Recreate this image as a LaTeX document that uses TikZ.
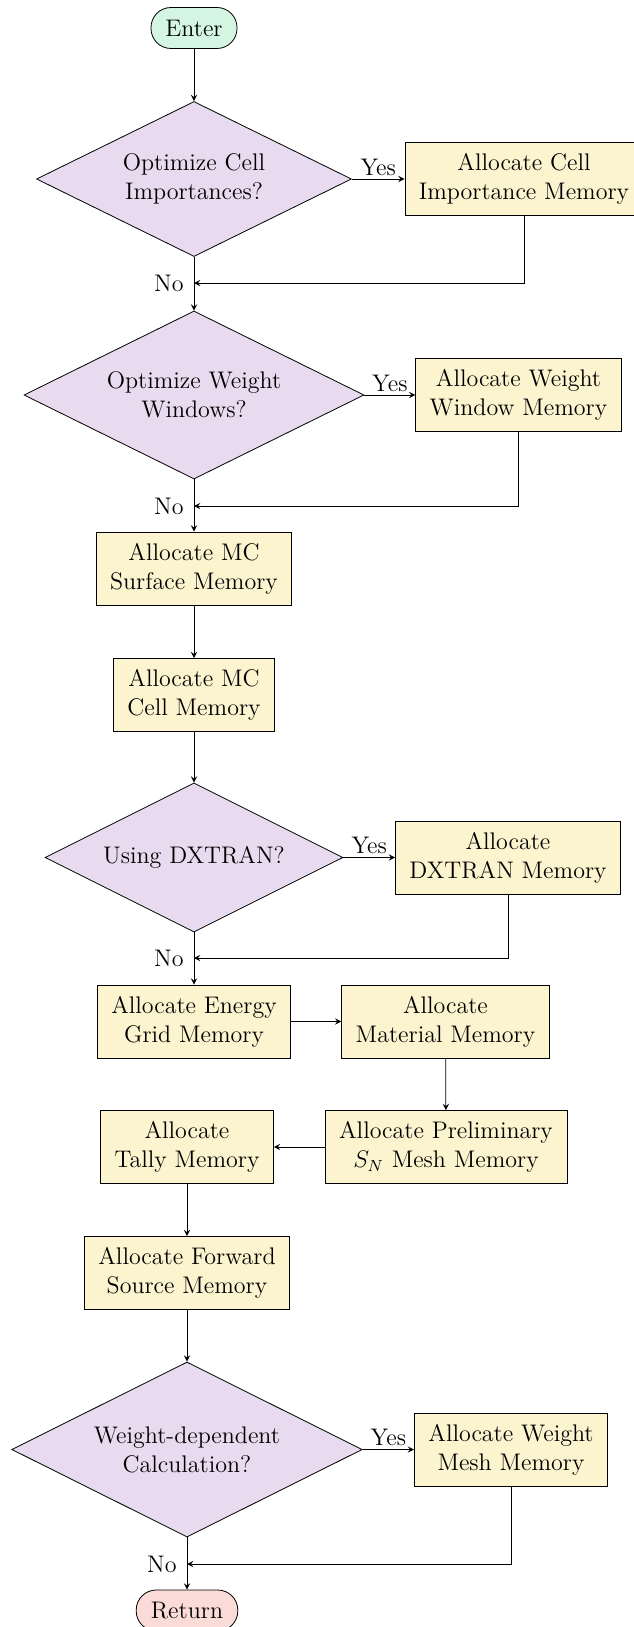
\documentclass[tikz,border=0pt]{standalone}
\usetikzlibrary{shapes.geometric,arrows.meta}
\definecolor{startfill}{HTML}{D5F5E3}
\definecolor{endfill}{HTML}{FADBD8}
\definecolor{decfill}{HTML}{E8DAEF}
\definecolor{procfill}{HTML}{FCF3CF}
\begin{document}
\begin{tikzpicture}[x=0.5pt,y=-0.5pt,
  every node/.style={font=\fontsize{12}{14.5}\selectfont},
  term/.style={draw, rectangle, rounded corners=10pt, minimum height=20.5pt, inner sep=2pt},
  decision/.style={draw, diamond, aspect=2, fill=decfill, align=center, inner sep=0pt},
  process/.style={draw, rectangle, fill=procfill, align=center, inner xsep=7pt, inner ysep=5.5pt, minimum height=36pt},
  arr/.style={->, >=stealth},
  yeslbl/.style={above, inner sep=1.5pt},
  nolbl/.style={left, inner sep=5pt}]
\useasboundingbox (0,0) rectangle (633,1627);

% nodes
\node[term, fill=startfill, minimum width=43pt] (enter) at (194,28) {Enter};
\node[decision, minimum width=157.5pt, minimum height=77.5pt] (d1) at (194,179) {Optimize Cell\\Importances?};
\node[process] (b1) at (524,179) {Allocate Cell\\Importance Memory};
\coordinate (j1) at (194,283);
\node[decision, minimum width=170pt, minimum height=84pt] (d2) at (194,395) {Optimize Weight\\Windows?};
\node[process] (b2) at (518.5,395) {Allocate Weight\\Window Memory};
\coordinate (j2) at (194,506);
\node[process] (b3) at (194,568.5) {Allocate MC\\Surface Memory};
\node[process] (b4) at (194,695) {Allocate MC\\Cell Memory};
\node[decision, minimum width=149pt, minimum height=74.5pt] (d3) at (194,857.5) {Using DXTRAN?};
\node[process] (b5) at (508,857.5) {Allocate\\DXTRAN Memory};
\coordinate (j3) at (194,958);
\node[process] (b6) at (194,1021.5) {Allocate Energy\\Grid Memory};
\node[process] (b7) at (445.5,1021.5) {Allocate\\Material Memory};
\node[process] (b8) at (446,1147) {Allocate Preliminary\\$S_N$ Mesh Memory};
\node[process] (b9) at (187,1147) {Allocate\\Tally Memory};
\node[process] (b10) at (187,1273) {Allocate Forward\\Source Memory};
\node[decision, minimum width=175.3pt, minimum height=87.5pt] (d4) at (187,1449.5) {Weight-dependent\\Calculation?};
\node[process] (b11) at (511,1449.5) {Allocate Weight\\Mesh Memory};
\coordinate (j4) at (187,1564);
\node[term, fill=endfill, minimum width=50.8pt] (ret) at (187,1610.5) {Return};

% connectors
\draw[arr] (enter) -- (d1);
\draw[arr] (d1) -- node[yeslbl] (y1) {Yes} (b1);
\draw[arr] (b1.south) |- (j1);
\draw[arr] (d1) -- (d2);
\node[nolbl] (n1) at (j1) {No};

\draw[arr] (d2) -- node[yeslbl] (y2) {Yes} (b2);
\draw[arr] (b2.south) |- (j2);
\draw[arr] (d2) -- (b3);
\node[nolbl] (n2) at (j2) {No};

\draw[arr] (b3) -- (b4);
\draw[arr] (b4) -- (d3);
\draw[arr] (d3) -- node[yeslbl] (y3) {Yes} (b5);
\draw[arr] (b5.south) |- (j3);
\draw[arr] (d3) -- (b6);
\node[nolbl] (n3) at (j3) {No};

\draw[arr] (b6) -- (b7);
\draw[arr] (b7) -- (b8);
\draw[arr] (b8) -- (b9);
\draw[arr] (b9) -- (b10);
\draw[arr] (b10) -- (d4);
\draw[arr] (d4) -- node[yeslbl] (y4) {Yes} (b11);
\draw[arr] (b11.south) |- (j4);
\draw[arr] (d4) -- (ret);
\node[nolbl] (n4) at (j4) {No};
\end{tikzpicture}
\end{document}
